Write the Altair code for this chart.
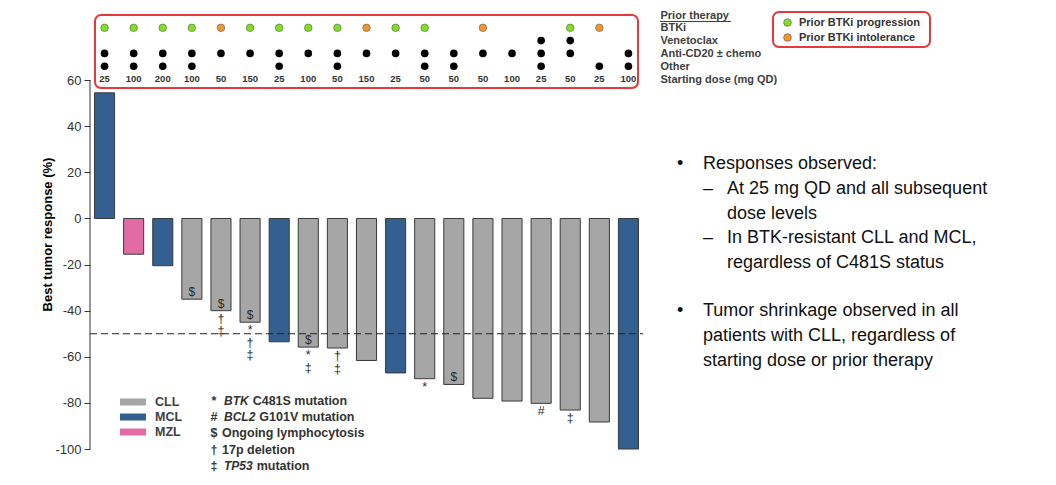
import altair as alt
import pandas as pd

# ---------------- data ----------------
patients = list(range(1, 20))
tumor_type = ["MCL", "MZL", "MCL", "CLL", "CLL", "CLL", "MCL", "CLL", "CLL", "CLL",
              "MCL", "CLL", "CLL", "CLL", "CLL", "CLL", "CLL", "CLL", "MCL"]
best_response = [54.5, -15.5, -20.5, -35, -40, -45, -53.5, -55.8, -56.2, -61.6,
                 -67, -69.5, -72, -78, -79.2, -80.2, -83.1, -88.3, -100]
starting_dose = [25, 100, 200, 100, 50, 150, 25, 100, 50, 150,
                 25, 50, 50, 50, 100, 25, 50, 25, 100]
btki_status = ["prog", "prog", "prog", "prog", "intol", "prog", "prog", "prog", "prog", "intol",
               "prog", "prog", "", "intol", "", "", "prog", "intol", ""]
venetoclax = [0, 0, 0, 0, 0, 0, 0, 0, 0, 0, 0, 0, 0, 0, 0, 1, 1, 0, 0]
anti_cd20 = [1, 1, 1, 1, 1, 1, 1, 1, 1, 1, 1, 1, 1, 1, 1, 1, 1, 0, 1]
other_therapy = [1, 1, 1, 1, 0, 0, 1, 0, 1, 0, 0, 1, 1, 0, 0, 1, 0, 1, 1]

# symbols drawn inside bar bottom / below the bar
inside_notes = {4: "$", 5: "$", 6: "$", 8: "$", 13: "$"}
below_notes = {5: ["†", "‡"], 6: ["*", "†", "‡"], 8: ["*", "‡"], 9: ["†", "‡"],
               12: ["*"], 16: ["#"], 17: ["‡"]}

type_names = ["CLL", "MCL", "MZL"]
type_colors = ["#A6A6A6", "#335F91", "#E36BA5"]
status_names = ["Prior BTKi progression", "Prior BTKi intolerance"]
status_colors = ["#7FE021", "#F0962E"]
status_map = {"prog": status_names[0], "intol": status_names[1]}

row_names = ["Prior therapy", "BTKi", "Venetoclax", "Anti-CD20 ± chemo", "Other",
             "Starting dose (mg QD)"]

y_ticks = [-100, -80, -60, -40, -20, 0, 20, 40, 60]
y_title = "Best tumor response (%)"
threshold = -50

footnotes = [("*", "BTK", "C481S mutation"),
             ("#", "BCL2", "G101V mutation"),
             ("$", "", "Ongoing lymphocytosis"),
             ("†", "", "17p deletion"),
             ("‡", "TP53", "mutation")]

bullet_lines = [("bullet", "Responses observed:"),
                ("dash", "At 25 mg QD and all subsequent"),
                ("cont2", "dose levels"),
                ("dash", "In BTK-resistant CLL and MCL,"),
                ("cont2", "regardless of C481S status"),
                ("gap", ""),
                ("bullet", "Tumor shrinkage observed in all"),
                ("cont1", "patients with CLL, regardless of"),
                ("cont1", "starting dose or prior therapy")]

FONT = "Liberation Sans"
W, H = 553, 438

# approximate Arial-bold glyph widths (em) for the italic words
GLYPH_EM = {"B": 0.722, "T": 0.611, "K": 0.722, "C": 0.722, "L": 0.611,
            "2": 0.556, "P": 0.667, "5": 0.556, "3": 0.556}

# ---------------- frames ----------------
bars_df = pd.DataFrame({"pt": patients, "type": tumor_type, "value": best_response})

inside_df = pd.DataFrame([{"pt": p, "value": best_response[p - 1], "sym": s}
                          for p, s in inside_notes.items()])
below_rows = []
for p, syms in below_notes.items():
    for k, s in enumerate(syms):
        below_rows.append({"pt": p, "value": best_response[p - 1], "sym": s, "slot": k})
below_df = pd.DataFrame(below_rows)

btki_df = pd.DataFrame([{"pt": p, "row": "BTKi", "status": status_map[s]}
                        for p, s in zip(patients, btki_status) if s])
black_rows = []
for p, v, a, o in zip(patients, venetoclax, anti_cd20, other_therapy):
    if v:
        black_rows.append({"pt": p, "row": "Venetoclax"})
    if a:
        black_rows.append({"pt": p, "row": "Anti-CD20 ± chemo"})
    if o:
        black_rows.append({"pt": p, "row": "Other"})
black_df = pd.DataFrame(black_rows)
dose_df = pd.DataFrame({"pt": patients, "row": "Starting dose (mg QD)",
                        "dose": [str(d) for d in starting_dose]})

one = pd.DataFrame({"a": [0]})

x_enc = alt.X("pt:O", scale=alt.Scale(paddingInner=0.31, paddingOuter=0.155), axis=None)
color_type = alt.Color("type:N", scale=alt.Scale(domain=type_names, range=type_colors), legend=None)

# ---------------- layer A: quantitative y ----------------
y_axis = alt.Axis(values=y_ticks, domain=False, grid=False, tickSize=6, tickColor="#333333",
                  labelFont=FONT, labelFontSize=13, labelColor="#333333", labelPadding=3,
                  labelExpr="'' + datum.value",
                  title=y_title, titleFont=FONT, titleFontSize=13, titleFontWeight="bold",
                  titleColor="#000000", titleX=-43, titleY=223, titleBaseline="middle")

bars = alt.Chart(bars_df).mark_bar(stroke="#3a3a3a", strokeWidth=1).encode(
    x=x_enc,
    y=alt.Y("value:Q", scale=alt.Scale(domain=[-100, 90], nice=False), axis=y_axis),
    color=color_type,
)

axis_line = alt.Chart(one).mark_rule(color="#333333", strokeWidth=1).encode(
    x=alt.value(0), y=alt.datum(-100), y2=alt.datum(60))

dashed = alt.Chart(one).mark_rule(color="#222222", strokeWidth=1, strokeDash=[7, 4]).encode(
    x=alt.value(0), x2=alt.value(W), y=alt.datum(threshold))

inside_txt = alt.Chart(inside_df).mark_text(font=FONT, fontSize=12, color="#2a2a2a",
                                            baseline="middle", dy=-7).encode(
    x="pt:O", y="value:Q", text="sym:N")

below_layers = []
for k in range(4):
    below_layers.append(
        alt.Chart(below_df).transform_filter(alt.datum.slot == k).mark_text(
            font=FONT, fontSize=12.5, color="#2a2a2a", baseline="middle", dy=8 + 12.5 * k
        ).encode(x="pt:O", y="value:Q", text="sym:N"))

red = "#E8383D"
matrix_box = alt.Chart(one).mark_rect(filled=False, color=red, strokeWidth=2, cornerRadius=6).encode(
    x=alt.value(5), x2=alt.value(548), y=alt.value(4), y2=alt.value(77))
legend_box = alt.Chart(one).mark_rect(filled=False, color=red, strokeWidth=2, cornerRadius=6).encode(
    x=alt.value(683), x2=alt.value(840), y=alt.value(1), y2=alt.value(36))
underline = alt.Chart(one).mark_rule(color="#404040", strokeWidth=1).encode(
    x=alt.value(570), x2=alt.value(641), y=alt.value(10.5))

# bottom-left type legend
type_leg = []
for i, t in enumerate(type_names):
    yc = 391 + 15 * i
    d = pd.DataFrame({"type": [t]})
    type_leg.append(alt.Chart(d).mark_rect().encode(
        x=alt.value(30), x2=alt.value(56), y=alt.value(yc - 3.5), y2=alt.value(yc + 3.5),
        color=color_type))
    type_leg.append(alt.Chart(d).mark_text(font=FONT, fontSize=12.5, fontWeight="bold",
                                           color="#404040", align="left", baseline="middle").encode(
        x=alt.value(65), y=alt.value(yc), text="type:N"))

# footnotes
foot = []
for i, (sym, ital, rest) in enumerate(footnotes):
    yc = 390 + 16.2 * i
    foot.append(alt.Chart(one).mark_text(text=sym, font=FONT, fontSize=12.5, fontWeight="bold",
                                         color="#333333", align="center", baseline="middle").encode(
        x=alt.value(124), y=alt.value(yc)))
    rest_x = 132
    if ital:
        foot.append(alt.Chart(one).mark_text(text=ital, font=FONT, fontSize=12, fontStyle="italic",
                                             fontWeight="bold", color="#333333", align="left",
                                             baseline="middle").encode(
            x=alt.value(134), y=alt.value(yc)))
        rest_x = 134 + 12 * sum(GLYPH_EM.get(c, 0.6) for c in ital) + 4
    foot.append(alt.Chart(one).mark_text(text=rest, font=FONT, fontSize=12.5, fontWeight="bold",
                                         color="#333333", align="left", baseline="middle").encode(
        x=alt.value(rest_x), y=alt.value(yc)))

# right-hand bullet text
bul = []
yc = 153
for kind, line in bullet_lines:
    if kind == "gap":
        yc += 23
        continue
    if kind == "bullet":
        bul.append(alt.Chart(one).mark_text(text="•", font=FONT, fontSize=18, color="#111111",
                                            align="left", baseline="middle").encode(
            x=alt.value(587), y=alt.value(yc)))
        tx = 613
    elif kind == "dash":
        bul.append(alt.Chart(one).mark_text(text="–", font=FONT, fontSize=18, color="#111111",
                                            align="left", baseline="middle").encode(
            x=alt.value(613), y=alt.value(yc)))
        tx = 637
    elif kind == "cont2":
        tx = 637
    else:
        tx = 613
    bul.append(alt.Chart(one).mark_text(text=line, font=FONT, fontSize=18, color="#111111",
                                        align="left", baseline="middle").encode(
        x=alt.value(tx), y=alt.value(yc)))
    yc += 24.8

layer_a = alt.layer(axis_line, bars, dashed, inside_txt, *below_layers, matrix_box, legend_box,
                    underline, *type_leg, *foot, *bul)

# ---------------- layer B: therapy matrix ----------------
row_scale = alt.Scale(type="point", domain=row_names, range=[4, 68], padding=0)
row_axis = alt.Axis(orient="right", domain=False, ticks=False, grid=False, labelPadding=17,
                    labelFont=FONT, labelFontSize=11, labelFontWeight="bold", labelColor="#404040",
                    labelAlign="left", labelBaseline="middle", title=None)

btki_dots = alt.Chart(btki_df).mark_circle(size=58, opacity=1, stroke="#5a5a5a", strokeWidth=0.6).encode(
    x="pt:O",
    y=alt.Y("row:N", scale=row_scale, axis=row_axis),
    color=alt.Color("status:N", scale=alt.Scale(domain=status_names, range=status_colors),
                    legend=alt.Legend(title=None, orient="none", legendX=692, legendY=6,
                                      symbolType="circle", symbolSize=60,
                                      symbolStrokeColor="#5a5a5a", symbolStrokeWidth=0.6,
                                      labelFont=FONT, labelFontSize=11, labelFontWeight="bold",
                                      labelColor="#333333", labelOffset=6, rowPadding=3,
                                      padding=0)),
)
black_dots = alt.Chart(black_df).mark_circle(size=58, opacity=1, color="#000000").encode(
    x="pt:O", y=alt.Y("row:N", scale=row_scale))
dose_txt = alt.Chart(dose_df).mark_text(font=FONT, fontSize=9.5, fontWeight="bold",
                                        color="#333333", baseline="middle").encode(
    x="pt:O", y=alt.Y("row:N", scale=row_scale), text="dose:N")

layer_b = alt.layer(btki_dots, black_dots, dose_txt)

chart = alt.layer(layer_a, layer_b).resolve_scale(y="independent", color="independent").properties(
    width=W, height=H,
    padding={"left": 82, "top": 3, "right": 405, "bottom": 28},
    autosize=alt.AutoSizeParams(type="none"),
).configure_view(stroke=None)

chart.save("out.html", embed_options={"renderer": "svg", "actions": False})
